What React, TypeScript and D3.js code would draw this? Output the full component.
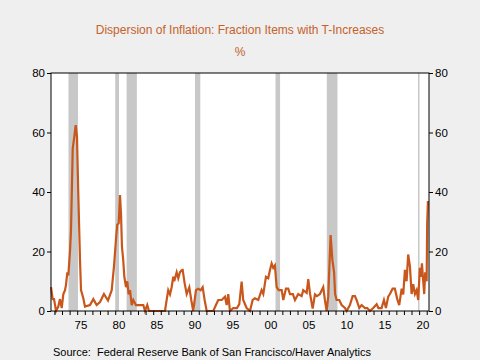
import { useEffect, useRef } from 'react'
import * as d3 from 'd3'

// fraction of items with T-increases, % (year, value)
const years = [
  1971.55, 1971.77, 1971.95, 1972.21, 1972.51, 1972.73, 1972.96, 1973.17, 1973.39, 1973.52,
  1973.70, 1973.83, 1974.05, 1974.18, 1974.41, 1974.62, 1974.80, 1974.97, 1975.14, 1975.37,
  1975.50, 1975.80, 1976.02, 1976.68, 1977.12, 1977.56, 1978.00, 1978.52, 1979.05, 1979.54,
  1979.84, 1980.10, 1980.27, 1980.46, 1980.63, 1980.76, 1980.89, 1981.06, 1981.20, 1981.42,
  1981.59, 1981.77, 1981.95, 1982.17, 1982.38, 1982.73, 1983.04, 1983.70, 1983.92, 1984.22,
  1984.45, 1986.55, 1986.77, 1986.98, 1987.21, 1987.43, 1987.64, 1987.77, 1988.09, 1988.30,
  1988.52, 1988.75, 1988.88, 1989.14, 1989.41, 1989.75, 1990.01, 1990.27, 1990.63, 1990.93,
  1991.25, 1991.51, 1991.77, 1992.04, 1992.91, 1993.26, 1993.56, 1994.01, 1994.45, 1994.67,
  1994.88, 1995.10, 1995.54, 1996.02, 1996.33, 1996.64, 1996.85, 1997.30, 1997.74, 1998.09,
  1998.39, 1998.83, 1999.27, 1999.49, 1999.84, 2000.14, 2000.37, 2000.59, 2000.80, 2001.02,
  2001.25, 2001.51, 2001.91, 2002.12, 2002.47, 2002.77, 2003.00, 2003.39, 2003.66, 2004.09,
  2004.54, 2004.75, 2005.20, 2005.41, 2005.63, 2005.99, 2006.29, 2006.55, 2006.95, 2007.38,
  2007.60, 2007.83, 2008.04, 2008.35, 2008.59, 2008.81, 2008.94, 2009.14, 2009.49, 2009.80,
  2010.24, 2010.46, 2010.89, 2011.25, 2011.55, 2011.77, 2012.12, 2012.43, 2012.87, 2013.17,
  2013.52, 2013.96, 2014.41, 2014.64, 2015.06, 2015.37, 2015.63, 2015.93, 2016.16, 2016.51,
  2016.81, 2017.12, 2017.38, 2017.70, 2017.91, 2018.13, 2018.35, 2018.56, 2018.79, 2019.01,
  2019.22, 2019.45, 2019.67, 2019.88, 2020.10, 2020.24, 2020.37, 2020.54, 2020.67, 2020.80,
  2020.99, 2021.06, 2021.16,
]
const values = [
  8, 4, 4, 0, 1.5, 4, 1, 5.6, 7, 8.7,
  13, 12, 20, 27, 54.7, 58.6, 62.5, 58.6, 39.6, 17,
  7, 4.3, 1.5, 2, 4, 2, 3, 5.7, 3.5, 7,
  15, 24, 29, 29.5, 39, 33, 21.6, 17, 11.5, 8,
  10, 5.6, 7, 2, 3.7, 2, 2, 2, 0, 2,
  0, 0, 3.7, 7, 5.6, 8, 11.5, 10, 13, 11,
  13, 13.7, 13.8, 9.3, 5.7, 8, 3.7, 0, 7, 7.5,
  7, 8, 3.7, 0, 0, 2, 3.7, 3.7, 4.8, 2,
  5.7, 0, 1, 1, 2.3, 9.9, 3.7, 1, 0, 3.7,
  4.3, 3.7, 7, 5.7, 11.5, 11, 13.8, 16, 14.5, 15.3,
  8, 7, 7, 3.7, 7.5, 7.5, 5.7, 5.7, 3.7, 5.7,
  5, 7, 6.1, 10.7, 6, 0.8, 5.6, 5, 5.7, 8,
  3.7, 0, 5, 25.5, 17, 13, 5.7, 3.7, 3.7, 2,
  1, 0, 2, 5, 5, 3.7, 1, 2, 1, 1,
  0, 1, 2.3, 1, 1, 3.7, 1, 4.8, 5.7, 7.5,
  7.5, 4, 2, 7.5, 5.6, 13.8, 10, 19, 15, 5.7,
  9, 5.7, 7, 3.7, 14.5, 11.5, 16, 10, 5.7, 13,
  10, 29.5, 37,
]

// NBER recessions as shaded in the picture
const recStart = [1973.85, 1980.0, 1981.5, 1990.5, 2001.1, 2007.85, 2019.85]
const recEnd = [1975.1, 1980.5, 1982.85, 1991.2, 2001.7, 2009.25, 2020.05]

const yTicks = [0, 20, 40, 60, 80]
const xLabels = ['75', '80', '85', '90', '95', '00', '05', '10', '15', '20']
const xLabelYears = [1975, 1980, 1985, 1990, 1995, 2000, 2005, 2010, 2015, 2020]

const ORANGE = '#c9561b'
const TITLE = '#c4622a'
const FONT = 'Liberation Sans, Arial, sans-serif'

export default function App() {
  const svgRef = useRef<SVGSVGElement>(null)

  useEffect(() => {
    if (!svgRef.current) return
    const svg = d3.select(svgRef.current)
    svg.selectAll('*').remove()

    const left = 51, right = 429, top = 73, bottom = 311

    const x = d3.scaleLinear().domain([1971.55, 2021.3]).range([left, right])
    const y = d3.scaleLinear().domain([0, 80]).range([bottom, top])

    svg.append('rect').attr('width', 480).attr('height', 360).attr('fill', '#efefef')
    svg.append('rect')
      .attr('x', left).attr('y', top)
      .attr('width', right - left).attr('height', bottom - top)
      .attr('fill', '#ffffff')

    // recession bars
    svg.selectAll('.rec')
      .data(recStart.map((s, i) => [s, recEnd[i]]))
      .join('rect')
      .attr('class', 'rec')
      .attr('x', d => x(d[0]))
      .attr('y', top)
      .attr('width', d => x(d[1]) - x(d[0]))
      .attr('height', bottom - top)
      .attr('fill', '#c8c8c8')

    // series
    const line = d3.line<number>()
      .x((_, i) => x(years[i]))
      .y(d => y(d))
    svg.append('path')
      .datum(values)
      .attr('d', line)
      .attr('fill', 'none')
      .attr('stroke', ORANGE)
      .attr('stroke-width', 2.2)
      .attr('stroke-linejoin', 'miter')

    // frame
    svg.append('rect')
      .attr('x', left).attr('y', top)
      .attr('width', right - left).attr('height', bottom - top)
      .attr('fill', 'none')
      .attr('stroke', '#000')
      .attr('stroke-width', 1)

    // y axes
    const yl = svg.append('g')
      .attr('transform', `translate(${left},0)`)
      .call(d3.axisLeft(y).tickValues(yTicks).tickSize(4).tickPadding(2))
    const yr = svg.append('g')
      .attr('transform', `translate(${right},0)`)
      .call(d3.axisRight(y).tickValues(yTicks).tickSize(4).tickPadding(2))

    // x axis: yearly ticks, labels centred in the year
    const xa = svg.append('g')
      .attr('transform', `translate(0,${bottom})`)
      .call(d3.axisBottom(x).tickValues(d3.range(1972, 2022)).tickSize(4).tickFormat(() => ''))
    xa.selectAll('.lbl')
      .data(xLabels)
      .join('text')
      .attr('class', 'lbl')
      .attr('x', (_, i) => x(xLabelYears[i] + 0.5))
      .attr('y', 18)
      .attr('text-anchor', 'middle')
      .text(d => d)

    for (const g of [yl, yr, xa]) {
      g.select('.domain').remove()
      g.selectAll('line').attr('stroke', '#000')
      g.selectAll('text')
        .attr('font-family', FONT)
        .attr('font-size', 11.5)
        .attr('fill', '#000')
    }

    svg.append('text')
      .attr('x', 240).attr('y', 34)
      .attr('text-anchor', 'middle')
      .attr('font-family', FONT).attr('font-size', 12)
      .attr('fill', TITLE)
      .text('Dispersion of Inflation: Fraction Items with T-Increases')
    svg.append('text')
      .attr('x', 240).attr('y', 56)
      .attr('text-anchor', 'middle')
      .attr('font-family', FONT).attr('font-size', 12)
      .attr('fill', TITLE)
      .text('%')

    svg.append('text')
      .attr('x', 53).attr('y', 356)
      .attr('font-family', FONT).attr('font-size', 11)
      .attr('fill', '#000')
      .attr('xml:space', 'preserve')
      .style('white-space', 'pre')
      .text('Source:  Federal Reserve Bank of San Francisco/Haver Analytics')
  }, [])

  return (
    <svg ref={svgRef} width={480} height={360}
      style={{ position: 'absolute', left: 0, top: 0, display: 'block' }} />
  )
}
